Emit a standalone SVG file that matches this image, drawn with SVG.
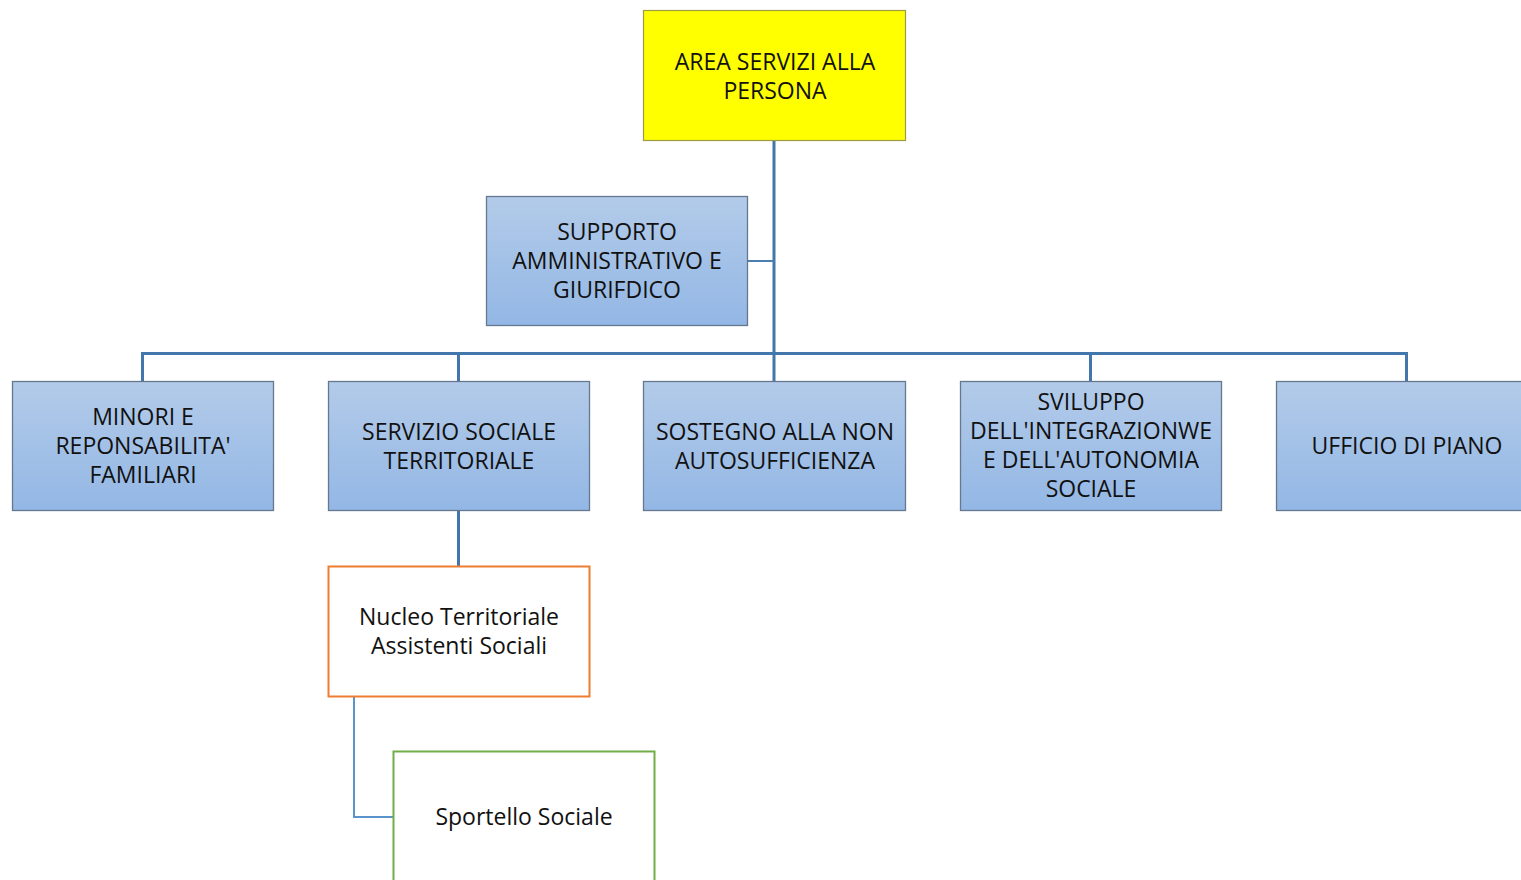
<svg xmlns="http://www.w3.org/2000/svg" width="1521" height="880" viewBox="0 0 1521 880">
<defs>
<linearGradient id="blue" x1="0" y1="0" x2="0" y2="1">
<stop offset="0" stop-color="#B3CBE9"/>
<stop offset="1" stop-color="#93B7E5"/>
</linearGradient>
<style>
.box{fill:url(#blue);stroke:#66788F;stroke-width:1.3}
.t{font-family:"Open Sans","Noto Sans",sans-serif;font-size:23px;fill:#111;text-anchor:middle;dominant-baseline:central}
.c{fill:none;stroke:#4377AB;stroke-width:3}
.c2{fill:none;stroke:#4A7FB3;stroke-width:2}
.c3{fill:none;stroke:#5B93CC;stroke-width:2}
</style>
</defs>
<rect width="1521" height="880" fill="#fff"/>
<g id="connectors">
<path class="c" d="M774 140V381"/>
<path class="c" d="M142.5 381V353.5H1406.5V381"/>
<path class="c" d="M458.5 353.5V381M1090.5 353.5V381"/>
<path class="c2" d="M747 261H774"/>
<path class="c" d="M458.5 511V566"/>
<path class="c3" d="M354 697V817H393"/>
</g>
<g id="area">
<rect x="643.5" y="10.5" width="262" height="130" fill="#FFFF00" stroke="#9C9C44" stroke-width="1.2"/>
<text class="t" x="775" y="61">AREA SERVIZI ALLA</text>
<text class="t" x="775" y="90">PERSONA</text>
</g>
<g id="supporto">
<rect class="box" x="486.5" y="196.5" width="261" height="129"/>
<text class="t" x="617" y="231">SUPPORTO</text>
<text class="t" x="617" y="260">AMMINISTRATIVO E</text>
<text class="t" x="617" y="289">GIURIFDICO</text>
</g>
<g id="minori">
<rect class="box" x="12.5" y="381.5" width="261" height="129"/>
<text class="t" x="143" y="416">MINORI E</text>
<text class="t" x="143" y="445">REPONSABILITA'</text>
<text class="t" x="143" y="474">FAMILIARI</text>
</g>
<g id="servizio">
<rect class="box" x="328.5" y="381.5" width="261" height="129"/>
<text class="t" x="459" y="431">SERVIZIO SOCIALE</text>
<text class="t" x="459" y="460">TERRITORIALE</text>
</g>
<g id="sostegno">
<rect class="box" x="643.5" y="381.5" width="262" height="129"/>
<text class="t" x="775" y="431">SOSTEGNO ALLA NON</text>
<text class="t" x="775" y="460">AUTOSUFFICIENZA</text>
</g>
<g id="sviluppo">
<rect class="box" x="960.5" y="381.5" width="261" height="129"/>
<text class="t" x="1091" y="401">SVILUPPO</text>
<text class="t" x="1091" y="430">DELL'INTEGRAZIONWE</text>
<text class="t" x="1091" y="459">E DELL'AUTONOMIA</text>
<text class="t" x="1091" y="488">SOCIALE</text>
</g>
<g id="ufficio">
<rect class="box" x="1276.5" y="381.5" width="261" height="129"/>
<text class="t" x="1407" y="445">UFFICIO DI PIANO</text>
</g>
<g id="nucleo">
<rect x="328.5" y="566.5" width="261" height="130" fill="#fff" stroke="#ED7D31" stroke-width="2"/>
<text class="t" x="459" y="616">Nucleo Territoriale</text>
<text class="t" x="459" y="645">Assistenti Sociali</text>
</g>
<g id="sportello">
<rect x="393.5" y="751.5" width="261" height="140" fill="#fff" stroke="#70AD47" stroke-width="2"/>
<text class="t" x="524" y="816">Sportello Sociale</text>
</g>
</svg>
